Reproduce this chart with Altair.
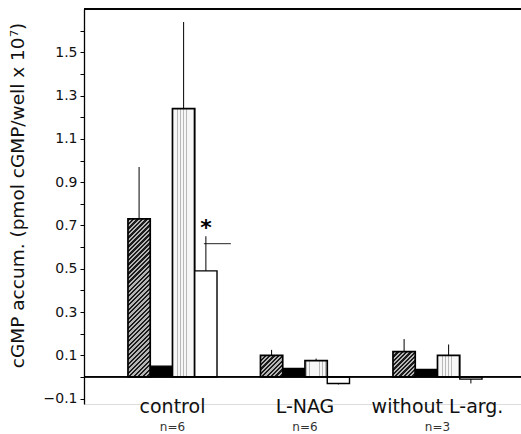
import math
import altair as alt
import pandas as pd

# ---------------- data ----------------
groups = ["control", "L-NAG", "without L-arg."]
n_labels = ["n=6", "n=6", "n=3"]
series = ["hatched", "solid", "lined", "open"]

hatched = [0.73, 0.10, 0.117]
solid = [0.05, 0.04, 0.035]
lined = [1.24, 0.075, 0.10]
open_ = [0.49, -0.03, -0.01]

hatched_err = [0.97, 0.125, 0.175]
lined_err = [1.64, 0.085, 0.15]
open_err = [0.65, -0.035, -0.03]

star_value = 0.70      # asterisk above control / open bar
bracket_value = 0.616  # horizontal marker next to it
n_label_value = -0.231

Y_MIN, Y_MAX = -0.125, 1.7
W, H = 437, 395
P_IN, P_OUT, ALIGN = 0.328, 0.313, 0.53

rows = []
for gi, g in enumerate(groups):
    vals = [hatched[gi], solid[gi], lined[gi], open_[gi]]
    errs = [hatched_err[gi], None, lined_err[gi], open_err[gi]]
    for s, v, e in zip(series, vals, errs):
        rows.append({"group": g, "series": s, "value": v, "err": e})
df = pd.DataFrame(rows)
ndf = pd.DataFrame({"group": groups, "n": n_labels})
star_df = pd.DataFrame({"group": [groups[0]], "series": ["open"],
                        "star": [star_value], "bracket": [bracket_value]})

# ---------------- shared encodings ----------------
x_scale = alt.Scale(domain=groups, paddingInner=P_IN, paddingOuter=P_OUT, align=ALIGN)
x_axis = alt.Axis(title=None, domain=False, ticks=False, labelAngle=0,
                  labelFont="DejaVu Sans", labelFontSize=19, labelColor="#111",
                  labelPadding=-7)
X = alt.X("group:N", scale=x_scale, sort=groups, axis=x_axis)
XO = alt.XOffset("series:N", sort=series,
                 scale=alt.Scale(domain=series, paddingInner=0, paddingOuter=0))

tick_vals = [round(-0.1 + 0.1 * i, 1) for i in range(18)]
y_scale = alt.Scale(domain=[Y_MIN, Y_MAX], nice=False, zero=False)
y_axis = alt.Axis(
    title="cGMP accum. (pmol cGMP/well x 10\u2077)",
    values=tick_vals,
    labelExpr="abs(round(datum.value*10)) % 2 == 1 ? format(datum.value, '.1f') : ''",
    grid=False, domain=True, domainColor="#000", domainWidth=1.3,
    ticks=True, tickColor="#000", tickSize=4, tickWidth=1,
    labelFont="DejaVu Sans", labelFontSize=14, labelColor="#111", labelPadding=3,
    titleFont="DejaVu Sans", titleFontSize=18.5, titleFontWeight="normal",
    titleColor="#111", titleX=-67, titleY=186, titleAngle=-90,
    titleAlign="center", titleBaseline="middle",
)


def Yf(field):
    return alt.Y(field, scale=y_scale, axis=y_axis)


def Yd(v):
    return alt.YDatum(v, scale=y_scale, axis=y_axis)


# ---------------- fills ----------------
step = W / (len(groups) - P_IN + 2 * P_OUT)
bar_w = step * (1 - P_IN) / len(series)
px_per_unit = H / (Y_MAX - Y_MIN)


def hatch_gradient(w, h, period=3.2, dark="#1c1c1c", light="#b5b5b5"):
    s = (w + h) / (w * w + h * h)
    x2, y2 = w * s, h * s
    n = max(2, round(((w + h) / math.sqrt(2)) / period))
    stops = []
    for i in range(n):
        a, b, c = i / n, (i + 0.5) / n, (i + 1) / n
        stops += [(a, dark), (b, dark), (b, light), (c, light)]
    return alt.Gradient(gradient="linear", x1=0, y1=0, x2=x2, y2=y2,
                        stops=[alt.GradientStop(offset=o, color=col) for o, col in stops])


def lined_gradient(n=7, frac=0.22, dark="#b8b8b8", light="#f7f7f7"):
    stops = []
    for i in range(n):
        a, c = i / n, (i + 1) / n
        m1 = (i + 0.5 - frac / 2) / n
        m2 = (i + 0.5 + frac / 2) / n
        stops += [(a, light), (m1, light), (m1, dark), (m2, dark), (m2, light), (c, light)]
    return alt.Gradient(gradient="linear", x1=0, y1=0, x2=1, y2=0,
                        stops=[alt.GradientStop(offset=o, color=col) for o, col in stops])


base = alt.Chart(df)
layers = []

# hatched bars, one gradient per bar so the hatch stays at 45 degrees
for gi, g in enumerate(groups):
    h = abs(hatched[gi]) * px_per_unit
    layers.append(
        base.transform_filter(
            (alt.datum.series == "hatched") & (alt.datum.group == g)
        ).mark_bar(fill=hatch_gradient(bar_w, h), stroke="#000", strokeWidth=1.7)
        .encode(x=X, xOffset=XO, y=Yf("value:Q"), y2=alt.Y2(datum=0))
    )

layers.append(
    base.transform_filter(alt.datum.series == "solid")
    .mark_bar(fill="#000", stroke="#000", strokeWidth=1.2)
    .encode(x=X, xOffset=XO, y=Yf("value:Q"), y2=alt.Y2(datum=0))
)
layers.append(
    base.transform_filter(alt.datum.series == "lined")
    .mark_bar(fill=lined_gradient(), stroke="#000", strokeWidth=1.7)
    .encode(x=X, xOffset=XO, y=Yf("value:Q"), y2=alt.Y2(datum=0))
)
layers.append(
    base.transform_filter(alt.datum.series == "open")
    .mark_bar(fill="#fff", stroke="#000", strokeWidth=1.4)
    .encode(x=X, xOffset=XO, y=Yf("value:Q"), y2=alt.Y2(datum=0))
)

# error bars
layers.append(
    base.transform_filter("isValid(datum.err)")
    .mark_rule(color="#000", strokeWidth=1)
    .encode(x=X, xOffset=XO, y=Yf("value:Q"), y2="err:Q")
)

# zero line and top frame
layers.append(alt.Chart(ndf).mark_rule(color="#000", strokeWidth=1.3).encode(y=Yd(0)))
layers.append(alt.Chart(ndf).mark_rule(color="#000", strokeWidth=1.3).encode(y=Yd(Y_MAX)))

# significance marker
star = alt.Chart(star_df)
layers.append(
    star.mark_text(text="*", font="DejaVu Sans", fontSize=22, fontWeight="bold",
                   baseline="middle", dy=3, color="#000")
    .encode(x=X, xOffset=XO, y=Yf("star:Q"))
)
# horizontal marker: starts at the open bar's centre and runs ~27 px to the right
bracket_len = 27
layers.append(
    star.mark_tick(orient="horizontal", size=bracket_len, thickness=1.2, color="#000",
                   xOffset=1.5 * bar_w + bracket_len / 2 - 2)
    .encode(x=X, y=Yf("bracket:Q"))
)

# n labels
layers.append(
    alt.Chart(ndf).mark_text(font="DejaVu Sans", fontSize=12, color="#333", baseline="middle")
    .encode(x=X, y=Yd(n_label_value), text="n:N")
)

chart = alt.layer(*layers).properties(
    width=W, height=H,
    padding={"left": 84, "top": 9, "right": 0, "bottom": 30},
    autosize=alt.AutoSizeParams(type="none"),
).configure_view(stroke=None).configure(background="#fff")

chart.save("out.html", embed_options={"renderer": "svg", "actions": False})
